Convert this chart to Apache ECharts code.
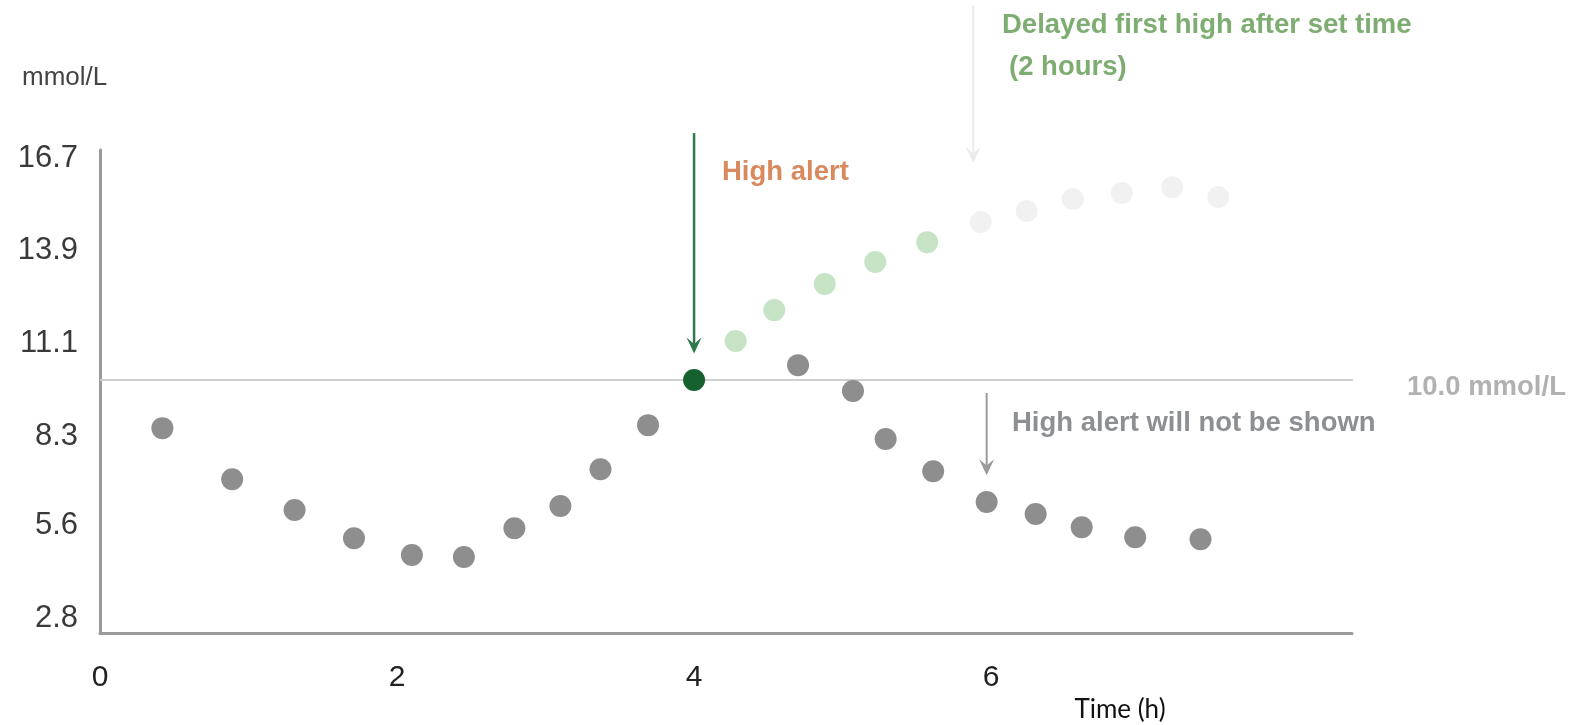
<!DOCTYPE html>
<html>
<head>
<meta charset="utf-8">
<title>High alert delay</title>
<script src="https://cdn.jsdelivr.net/npm/echarts@6/dist/echarts.min.js"></script>
<style>
    html, body { margin: 0; padding: 0; background: #fff; }
    #chart { width: 1571px; height: 725px; }
</style>
</head>
<body>
<div id="chart"></div>
<script>
    // ticks
    const xTicks = [0, 2, 4, 6];
    const yTicks = [2.8, 5.6, 8.3, 11.1, 13.9, 16.7];

    // [time (h), glucose (mmol/L)]
    const grayBefore = [[0.42, 8.55], [0.89, 7.01], [1.31, 6.08], [1.71, 5.23], [2.10, 4.72],
        [2.45, 4.66], [2.79, 5.53], [3.10, 6.20], [3.37, 7.31], [3.69, 8.64]];
    const alertPoint = [[4.0, 10.0]];
    const greenRise = [[4.28, 11.18], [4.54, 12.11], [4.88, 12.90], [5.22, 13.56], [5.57, 14.16]];
    const fadedRise = [[5.93, 14.77], [6.24, 15.10], [6.55, 15.46], [6.88, 15.64], [7.22, 15.82], [7.53, 15.52]];
    const grayAfter = [[4.70, 10.45], [5.07, 9.67], [5.29, 8.22], [5.61, 7.25], [5.97, 6.32],
        [6.30, 5.96], [6.61, 5.56], [6.97, 5.26], [7.41, 5.20]];

    // 10.0 mmol/L limit, drawn from 0 h to 8.5 h
    const highLimit = 10.0;
    const limitSpan = [0, 8.5];

    // arrows: [time, from value, tip value]
    const arrows = [[4.0, 17.45, 10.8], [5.97, 9.61, 7.13], [5.88, 21.3, 16.55]];
    const arrowColors = ['#2f7a4c', '#9a9a9a', '#ebebeb'];
    const arrowWidths = [2.5, 2, 2];

    const font = '"Liberation Sans", Arial, sans-serif';

    let chart = echarts.init(document.getElementById('chart'));

    function dots(name, data, color) {
        return {
            name: name,
            type: 'scatter',
            data: data,
            symbolSize: 22,
            silent: true,
            z: 5,
            itemStyle: { color: color, opacity: 1 }
        };
    }

    function renderArrow(params, api) {
        let p0 = api.coord([api.value(0), api.value(1)]);
        let p1 = api.coord([api.value(0), api.value(2)]);
        let color = arrowColors[params.dataIndex];
        let h = 16, w = 7.5;
        return {
            type: 'group',
            children: [
                {
                    type: 'line',
                    shape: { x1: p0[0], y1: p0[1], x2: p1[0], y2: p1[1] - h * 0.6 },
                    style: { stroke: color, lineWidth: arrowWidths[params.dataIndex] }
                },
                {
                    type: 'polygon',
                    shape: { points: [[p1[0], p1[1]], [p1[0] - w, p1[1] - h], [p1[0], p1[1] - h * 0.6], [p1[0] + w, p1[1] - h]] },
                    style: { fill: color }
                }
            ]
        };
    }

    let option = {
        animation: false,
        grid: { left: 100, right: 219, top: 150, bottom: 92 },
        xAxis: {
            type: 'value',
            min: 0,
            max: 8.43,
            splitLine: { show: false },
            axisTick: { show: false },
            axisLine: { show: true, lineStyle: { color: '#9a9a9a', width: 3 } },
            axisLabel: {
                customValues: xTicks,
                margin: 30,
                fontSize: 30,
                fontFamily: font,
                color: '#222'
            }
        },
        yAxis: {
            type: 'value',
            min: 2.37,
            max: 16.94,
            splitLine: { show: false },
            axisTick: { show: false },
            axisLine: { show: true, lineStyle: { color: '#9a9a9a', width: 3 } },
            axisLabel: {
                customValues: yTicks,
                formatter: function (v) { return v.toFixed(1); },
                margin: 22,
                fontSize: 31,
                fontFamily: font,
                color: '#3a3a3a'
            }
        },
        series: [
            {
                name: 'limit',
                type: 'line',
                data: limitSpan.map(function (t) { return [t, highLimit]; }),
                symbol: 'none',
                clip: false,
                silent: true,
                z: 1,
                lineStyle: { color: '#cfcfcf', width: 2 }
            },
            {
                name: 'arrows',
                type: 'custom',
                data: arrows,
                renderItem: renderArrow,
                clip: false,
                silent: true,
                z: 2
            },
            dots('faded', fadedRise, '#f1f1f1'),
            dots('green', greenRise, '#c7e3c6'),
            dots('gray before', grayBefore, '#8e8e8e'),
            dots('gray after', grayAfter, '#8e8e8e'),
            dots('alert', alertPoint, '#17612f')
        ],
        graphic: [
            { type: 'text', x: 22, y: 78, silent: true,
              style: { text: 'mmol/L', fill: '#444', fontSize: 26, fontFamily: font, textVerticalAlign: 'middle' } },
            { type: 'text', x: 1002, y: 25, silent: true,
              style: { text: 'Delayed first high after set time', fill: '#7ead72', fontSize: 27.5, fontWeight: 'bold', fontFamily: font, textVerticalAlign: 'middle' } },
            { type: 'text', x: 1009, y: 67, silent: true,
              style: { text: '(2 hours)', fill: '#7ead72', fontSize: 27.5, fontWeight: 'bold', fontFamily: font, textVerticalAlign: 'middle' } },
            { type: 'text', x: 722, y: 172, silent: true,
              style: { text: 'High alert', fill: '#d8895e', fontSize: 27.5, fontWeight: 'bold', fontFamily: font, textVerticalAlign: 'middle' } },
            { type: 'text', x: 1012, y: 423, silent: true,
              style: { text: 'High alert will not be shown', fill: '#8d9093', fontSize: 27.5, fontWeight: 'bold', fontFamily: font, textVerticalAlign: 'middle' } },
            { type: 'text', x: 1407, y: 387, silent: true,
              style: { text: '10.0 mmol/L', fill: '#b1b1b1', fontSize: 27.5, fontWeight: 'bold', fontFamily: font, textVerticalAlign: 'middle' } },
            { type: 'text', x: 1120, y: 710, silent: true,
              style: { text: 'Time (h)', fill: '#111', fontSize: 26, fontFamily: 'Lato, "Open Sans", sans-serif', textAlign: 'center', textVerticalAlign: 'middle' } }
        ]
    };

    chart.setOption(option);
    window.addEventListener('resize', function () {
        chart.resize();
    });
</script>
</body>
</html>
